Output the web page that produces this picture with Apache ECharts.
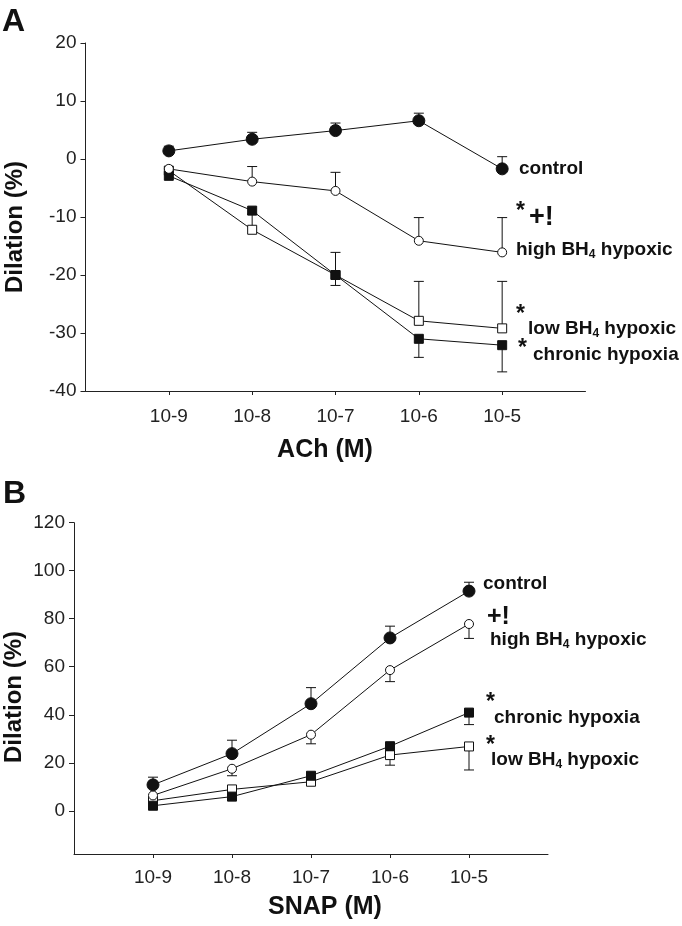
<!DOCTYPE html>
<html>
<head>
<meta charset="utf-8">
<script src="https://cdn.jsdelivr.net/npm/echarts@6/dist/echarts.min.js"></script>
<style>
html,body{margin:0;padding:0;background:#fff;}
#c{width:682px;height:926px;}
</style>
</head>
<body>
<div id="c"></div>
<script>
// ---- data ----
const tickLabels = ['10-9', '10-8', '10-7', '10-6', '10-5'];
const xPos = [1, 2, 3, 4, 5];

// Panel A: ACh
const aControl = [1.4, 3.4, 4.9, 6.6, -1.7];
const aControlErr = [2.2, 4.6, 6.2, 7.9, 0.4];
const aHigh = [-1.7, -3.9, -5.5, -14.1, -16.1];
const aHighErr = [null, -1.3, -2.3, -10.1, -10.1];
const aLow = [-2.0, -12.2, -20.0, -27.9, -29.2];
const aLowErr = [null, -9.5, -16.1, -21.1, -21.1];
const aChronic = [-2.9, -8.9, -20.0, -31.0, -32.1];
const aChronicErr = [null, null, -21.8, -34.2, -36.7];

// Panel B: SNAP
const bControl = [10.8, 23.8, 44.6, 72.0, 91.5];
const bControlErr = [14.0, 29.4, 51.3, 76.9, 95.2];
const bHigh = [6.4, 17.5, 31.7, 58.6, 77.8];
const bHighErr = [null, 14.6, 27.9, 53.8, 71.8];
const bChronic = [2.1, 5.9, 14.6, 26.9, 40.9];
const bChronicErr = [null, null, null, null, 35.9];
const bLow = [4.2, 8.9, 12.1, 23.2, 26.8];
const bLowErr = [null, null, null, 19.0, 17.0];

const aYTicks = [-40, -30, -20, -10, 0, 10, 20];
const bYTicks = [0, 20, 40, 60, 80, 100, 120];

// ---- helpers ----
const FONT = '"Liberation Sans", Arial, sans-serif';

function errBar(gi, vals, errs) {
  const data = [];
  vals.forEach((v, i) => { if (errs[i] != null) data.push([xPos[i], v, errs[i]]); });
  return {
    type: 'custom', xAxisIndex: gi, yAxisIndex: gi, z: 1,
    data: data,
    encode: { x: 0, y: [1, 2] },
    renderItem: function (params, api) {
      const p0 = api.coord([api.value(0), api.value(1)]);
      const p1 = api.coord([api.value(0), api.value(2)]);
      const hw = 5;
      return {
        type: 'group',
        children: [
          { type: 'line', shape: { x1: p0[0], y1: p0[1], x2: p1[0], y2: p1[1] }, style: { stroke: '#111', lineWidth: 1 } },
          { type: 'line', shape: { x1: p1[0] - hw, y1: p1[1], x2: p1[0] + hw, y2: p1[1] }, style: { stroke: '#111', lineWidth: 1 } }
        ]
      };
    }
  };
}

function lineSeries(gi, vals, symbol, size, fill) {
  return {
    type: 'line', xAxisIndex: gi, yAxisIndex: gi, z: 3,
    data: vals.map((v, i) => [xPos[i], v]),
    symbol: symbol, symbolSize: size, showSymbol: true,
    lineStyle: { color: '#111', width: 1 },
    itemStyle: { color: fill, borderColor: '#111', borderWidth: 1 },
    emphasis: { disabled: true }
  };
}

function xAxisDef(gi) {
  return {
    gridIndex: gi, type: 'value', min: 0, max: 6,
    axisLine: { onZero: false, lineStyle: { color: '#222', width: 1 } },
    axisTick: { show: true, length: 4, inside: false, customValues: xPos, lineStyle: { color: '#222' } },
    axisLabel: {
      customValues: xPos, color: '#222', fontSize: 19, fontFamily: FONT,
      margin: gi === 0 ? 16 : 14,
      formatter: function (v) { return tickLabels[Math.round(v) - 1] || ''; }
    },
    splitLine: { show: false }
  };
}

function yAxisDef(gi, min, max, ticks) {
  return {
    gridIndex: gi, type: 'value', min: min, max: max,
    axisLine: { show: true, onZero: false, lineStyle: { color: '#222', width: 1 } },
    axisTick: { show: true, length: 5, customValues: ticks, lineStyle: { color: '#222' } },
    axisLabel: { customValues: ticks, color: '#222', fontSize: 19, fontFamily: FONT, margin: 9 },
    splitLine: { show: false }
  };
}

function txt(x, y, text, size, rich) {
  return {
    type: 'text', z: 10,
    style: {
      x: x, y: y, text: text, fill: '#111',
      fontSize: size, fontWeight: 'bold', fontFamily: FONT,
      verticalAlign: 'middle', align: 'left',
      rich: rich || {}
    }
  };
}
const subRich = (size) => ({
  s: { fontSize: Math.round(size * 0.65), fontWeight: 'bold', fontFamily: FONT, fill: '#111', padding: [Math.round(size * 0.55), 0, 0, 0] }
});

const chart = echarts.init(document.getElementById('c'), null, { renderer: 'canvas' });

const option = {
  animation: false,
  backgroundColor: '#fff',
  grid: [
    { left: 85.5, top: 43, width: 500, height: 348 },
    { left: 74, top: 522.7, width: 474, height: 331.3 }
  ],
  xAxis: [xAxisDef(0), xAxisDef(1)],
  yAxis: [yAxisDef(0, -40, 20, aYTicks), yAxisDef(1, -18, 120, bYTicks)],
  series: [
    errBar(0, aControl, aControlErr),
    errBar(0, aHigh, aHighErr),
    errBar(0, aLow, aLowErr),
    errBar(0, aChronic, aChronicErr),
    lineSeries(0, aLow, 'rect', 9, '#fff'),
    lineSeries(0, aChronic, 'rect', 9, '#111'),
    lineSeries(0, aHigh, 'circle', 9, '#fff'),
    lineSeries(0, aControl, 'circle', 12, '#111'),

    errBar(1, bControl, bControlErr),
    errBar(1, bHigh, bHighErr),
    errBar(1, bLow, bLowErr),
    errBar(1, bChronic, bChronicErr),
    lineSeries(1, bLow, 'rect', 9, '#fff'),
    lineSeries(1, bChronic, 'rect', 9, '#111'),
    lineSeries(1, bHigh, 'circle', 9, '#fff'),
    lineSeries(1, bControl, 'circle', 12, '#111')
  ],
  graphic: [
    // panel letters
    txt(2, 22, 'A', 32),
    txt(3, 494, 'B', 32),
    // axis titles
    { type: 'text', z: 10, rotation: Math.PI / 2, x: 15, y: 227,
      style: { x: 0, y: 0, text: 'Dilation (%)', fill: '#111', fontSize: 24, fontWeight: 'bold', fontFamily: FONT, align: 'center', verticalAlign: 'middle' } },
    { type: 'text', z: 10, rotation: Math.PI / 2, x: 14, y: 697,
      style: { x: 0, y: 0, text: 'Dilation (%)', fill: '#111', fontSize: 24, fontWeight: 'bold', fontFamily: FONT, align: 'center', verticalAlign: 'middle' } },
    { type: 'text', z: 10, style: { x: 325, y: 450, text: 'ACh (M)', fill: '#111', fontSize: 25, fontWeight: 'bold', fontFamily: FONT, align: 'center', verticalAlign: 'middle' } },
    { type: 'text', z: 10, style: { x: 325, y: 907, text: 'SNAP (M)', fill: '#111', fontSize: 25, fontWeight: 'bold', fontFamily: FONT, align: 'center', verticalAlign: 'middle' } },

    // panel A annotations
    txt(519, 169, 'control', 19),
    txt(516, 212, '*', 23),
    txt(529, 218, '+!', 27),
    txt(516, 250, 'high BH{s|4} hypoxic', 19, subRich(19)),
    txt(516, 315, '*', 23),
    txt(528, 329, 'low BH{s|4} hypoxic', 19, subRich(19)),
    txt(518, 349, '*', 23),
    txt(533, 355, 'chronic hypoxia', 19),

    // panel B annotations
    txt(483, 584, 'control', 19),
    txt(487, 617, '+!', 25),
    txt(490, 640, 'high BH{s|4} hypoxic', 19, subRich(19)),
    txt(486, 703, '*', 23),
    txt(494, 718, 'chronic hypoxia', 19),
    txt(486, 746, '*', 23),
    txt(491, 760, 'low BH{s|4} hypoxic', 19, subRich(19))
  ]
};
chart.setOption(option);
</script>
</body>
</html>
